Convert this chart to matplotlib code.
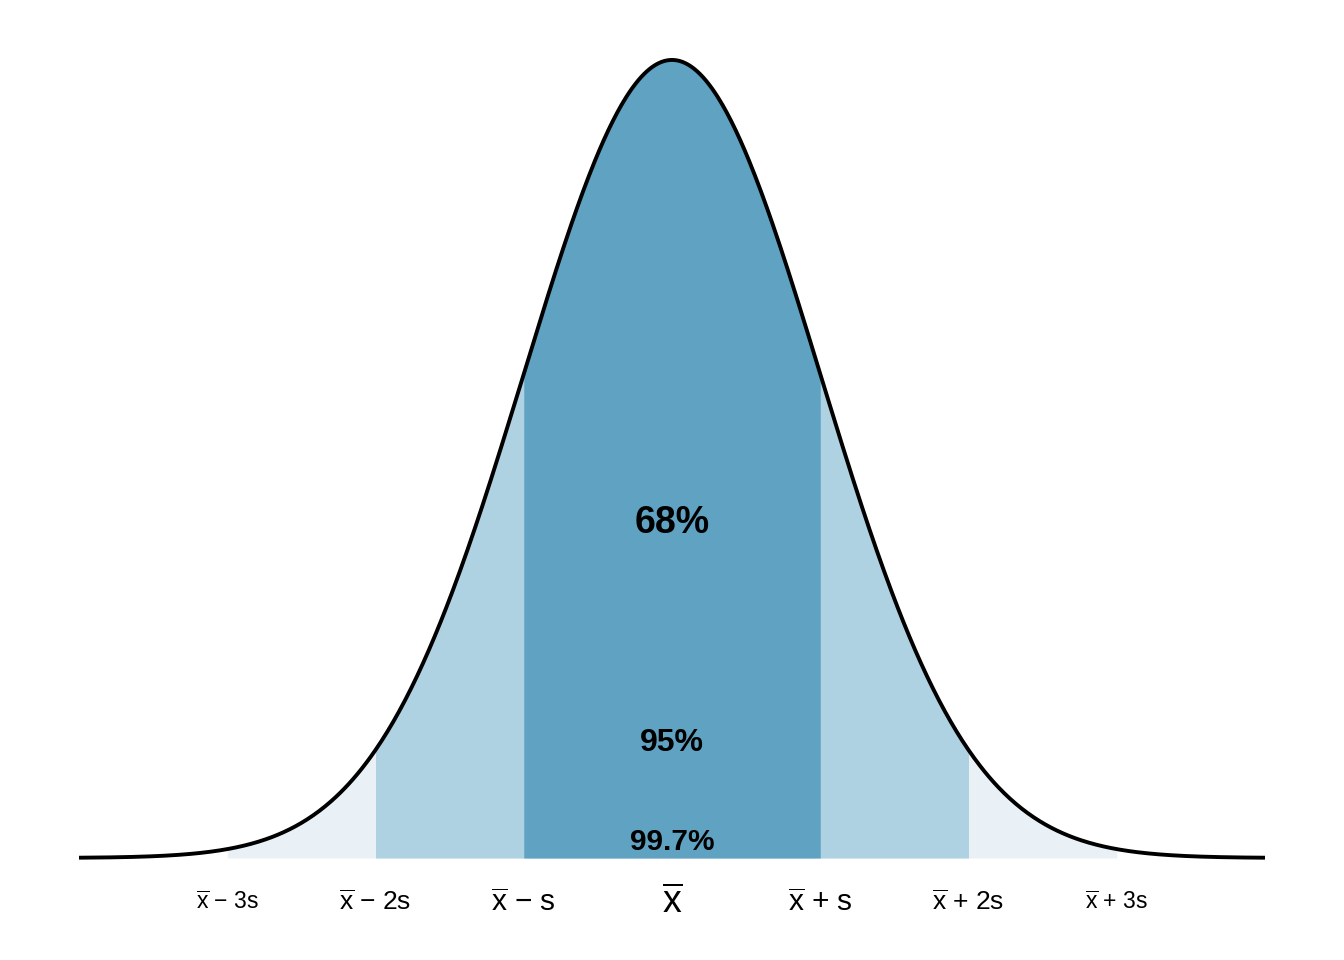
import numpy as np
import matplotlib
matplotlib.use("Agg")
import matplotlib.pyplot as plt

plt.rcParams['font.family'] = ['Liberation Sans', 'DejaVu Sans']
plt.rcParams['mathtext.fontset'] = 'custom'
plt.rcParams['mathtext.rm'] = 'Liberation Sans'
plt.rcParams['mathtext.it'] = 'Liberation Sans:italic'
plt.rcParams['mathtext.bf'] = 'Liberation Sans:bold'

# data
band_sd = [3, 2, 1]                      # half-widths of shaded bands (in s)
band_colors = ['#e9f1f7', '#afd2e2', '#5fa2c2']
pct_labels = ['99.7%', '95%', '68%']
pct_y = [0.008, 0.0575, 0.1675]
pct_sizes = [21.5, 23, 27]
tick_pos = [-3, -2, -1, 0, 1, 2, 3]
XBAR = r'$\overline{\mathrm{x}}$'
tick_labels = [XBAR + ' \u2212 3s', XBAR + ' \u2212 2s', XBAR + ' \u2212 s', XBAR,
               XBAR + ' + s', XBAR + ' + 2s', XBAR + ' + 3s']
tick_sizes = [16.5, 19, 21.5, 27, 21.5, 19, 16.5]

x = np.linspace(-4, 4, 801)
pdf = np.exp(-x**2 / 2) / np.sqrt(2 * np.pi)

fig = plt.figure(figsize=(13.44, 9.6), dpi=100)
ax = fig.add_axes([0, 0, 1, 1])
ax.set_xlim(-4.533, 4.533)
ax.set_ylim(-0.051, 0.4289)
ax.axis('off')

for w, c in zip(band_sd, band_colors):
    m = (x >= -w - 1e-9) & (x <= w + 1e-9)
    ax.fill_between(x[m], 0, pdf[m], color=c, linewidth=0)

ax.plot(x, pdf, color='black', lw=2.8, solid_capstyle='butt')

for lab, yy, fs in zip(pct_labels, pct_y, pct_sizes):
    ax.text(0, yy, lab, ha='center', va='center', fontsize=fs, fontweight='bold')

for p, lab, fs in zip(tick_pos, tick_labels, tick_sizes):
    ax.text(p, -0.0225, lab, ha='center', va='center', fontsize=fs)

fig.savefig('out.png', dpi=100)
